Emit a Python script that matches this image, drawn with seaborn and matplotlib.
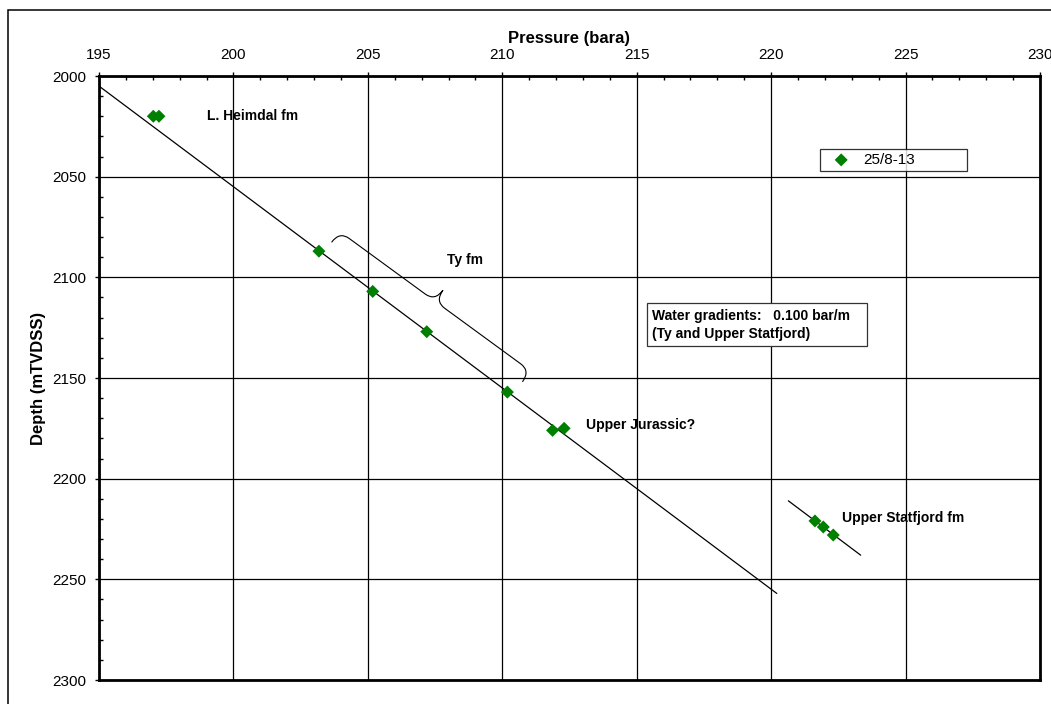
import matplotlib
matplotlib.use("Agg")
import matplotlib.pyplot as plt
import seaborn as sns
import numpy as np
from matplotlib.path import Path
from matplotlib.patches import PathPatch, Rectangle
from matplotlib.ticker import MultipleLocator
from matplotlib.transforms import IdentityTransform

# Pressure points, well 25/8-13
pressure = [197.02, 197.23, 203.18, 205.18, 207.19, 210.19, 211.87, 212.30, 221.63, 221.94, 222.31]
depth = [2020, 2020, 2087, 2107, 2127, 2157, 2176, 2175, 2221, 2224, 2228]

# water gradient lines (0.100 bar/m)
ty_line_p = [195.0, 220.21]
ty_line_d = [2005, 2257]
stf_line_p = [220.64, 223.33]
stf_line_d = [2211, 2238]

# zone labels
zone_names = ["L. Heimdal fm", "Ty fm", "Upper Jurassic?", "Upper Statfjord fm"]
zone_p = [199.03, 207.93, 213.11, 222.62]
zone_d = [2020, 2091.5, 2173.5, 2219.5]

# brace spanning the Ty fm points
brace_p = [203.65, 210.75]
brace_d = [2082.6, 2151.9]

note = "Water gradients:   0.100 bar/m   \n(Ty and Upper Statfjord)"

sns.set_theme(style="white")
plt.rcParams['font.family'] = ['Liberation Sans', 'DejaVu Sans']
plt.rcParams['text.color'] = 'black'
plt.rcParams['axes.labelcolor'] = 'black'

fig = plt.figure(figsize=(10.51, 7.04), dpi=100)
ax = fig.add_axes([99 / 1051, 1 - 680 / 704, 941 / 1051, 604 / 704])

ax.plot(ty_line_p, ty_line_d, color='black', lw=0.9, zorder=3)
ax.plot(stf_line_p, stf_line_d, color='black', lw=0.9, zorder=3)
sns.scatterplot(x=pressure, y=depth, marker='D', color='#008000', s=44,
                edgecolor='none', label='25/8-13', ax=ax, zorder=4)

ax.set_xlim(195, 230)
ax.set_ylim(2300, 2000)
ax.xaxis.tick_top()
ax.xaxis.set_label_position('top')
ax.xaxis.set_major_locator(MultipleLocator(5))
ax.xaxis.set_minor_locator(MultipleLocator(1))
ax.yaxis.set_major_locator(MultipleLocator(50))
ax.yaxis.set_minor_locator(MultipleLocator(10))
ax.tick_params(which='major', direction='out', length=3, width=1, color='black',
               labelsize=11, labelcolor='black', pad=6)
ax.tick_params(which='minor', direction='in', length=3, width=1, color='black')
ax.tick_params(axis='x', which='both', top=True, bottom=False)
ax.tick_params(axis='y', which='both', left=True, right=False)
ax.tick_params(axis='x', which='major', pad=7)
ax.grid(True, which='major', color='black', lw=0.9)
ax.set_axisbelow(True)
for sp in ax.spines.values():
    sp.set_color('black')
    sp.set_linewidth(2)

ax.set_xlabel('Pressure (bara)', fontsize=12, fontweight='bold', labelpad=4)
ax.set_ylabel('Depth (mTVDSS)', fontsize=12, fontweight='bold', labelpad=5)

for name, p, d in zip(zone_names, zone_p, zone_d):
    ax.text(p, d, name, fontsize=10, fontweight='bold', va='center', ha='left')

ax.text(215.58, 2123.5, note, fontsize=10, fontweight='bold', va='center', ha='left',
        linespacing=1.35,
        bbox=dict(boxstyle='square,pad=0.4', fc='white', ec='#333333', lw=0.9),
        zorder=5)

leg = ax.legend(loc='upper left', bbox_to_anchor=(0.766, 0.879 - 0.0414, 0.156, 0.0414),
                mode='expand', borderaxespad=0, fontsize=11, frameon=True, fancybox=False,
                borderpad=0.25, handlelength=2.3, handletextpad=0.3)
leg.get_frame().set_edgecolor('black')
leg.get_frame().set_linewidth(0.9)
for t in leg.get_texts():
    t.set_color('black')

# curly brace drawn in pixel space
p0 = ax.transData.transform((brace_p[0], brace_d[0]))
p1 = ax.transData.transform((brace_p[1], brace_d[1]))
L = np.hypot(*(p1 - p0))
u = (p1 - p0) / L
n = np.array([-u[1], u[0]])
h, r = 27.0, 12.0
local = [(0, 0), (0, h / 2), (r, h / 2), (L / 2 - r, h / 2), (L / 2, h / 2), (L / 2, h),
         (L / 2, h / 2), (L / 2 + r, h / 2), (L - r, h / 2), (L, h / 2), (L, 0)]
codes = [Path.MOVETO, Path.CURVE3, Path.CURVE3, Path.LINETO, Path.CURVE3, Path.CURVE3,
         Path.CURVE3, Path.CURVE3, Path.LINETO, Path.CURVE3, Path.CURVE3]
verts = [tuple(p0 + s * u + t * n) for s, t in local]
ax.add_patch(PathPatch(Path(verts, codes), transform=IdentityTransform(), fill=False,
                       ec='black', lw=0.8, zorder=3))

# outer chart frame
fig.patches.append(Rectangle((7.5 / 1051, -0.1), 1.2, 1 - 10 / 704 + 0.1,
                             transform=fig.transFigure, fill=False, ec='black', lw=1.1))

fig.savefig('out.png', dpi=100)
